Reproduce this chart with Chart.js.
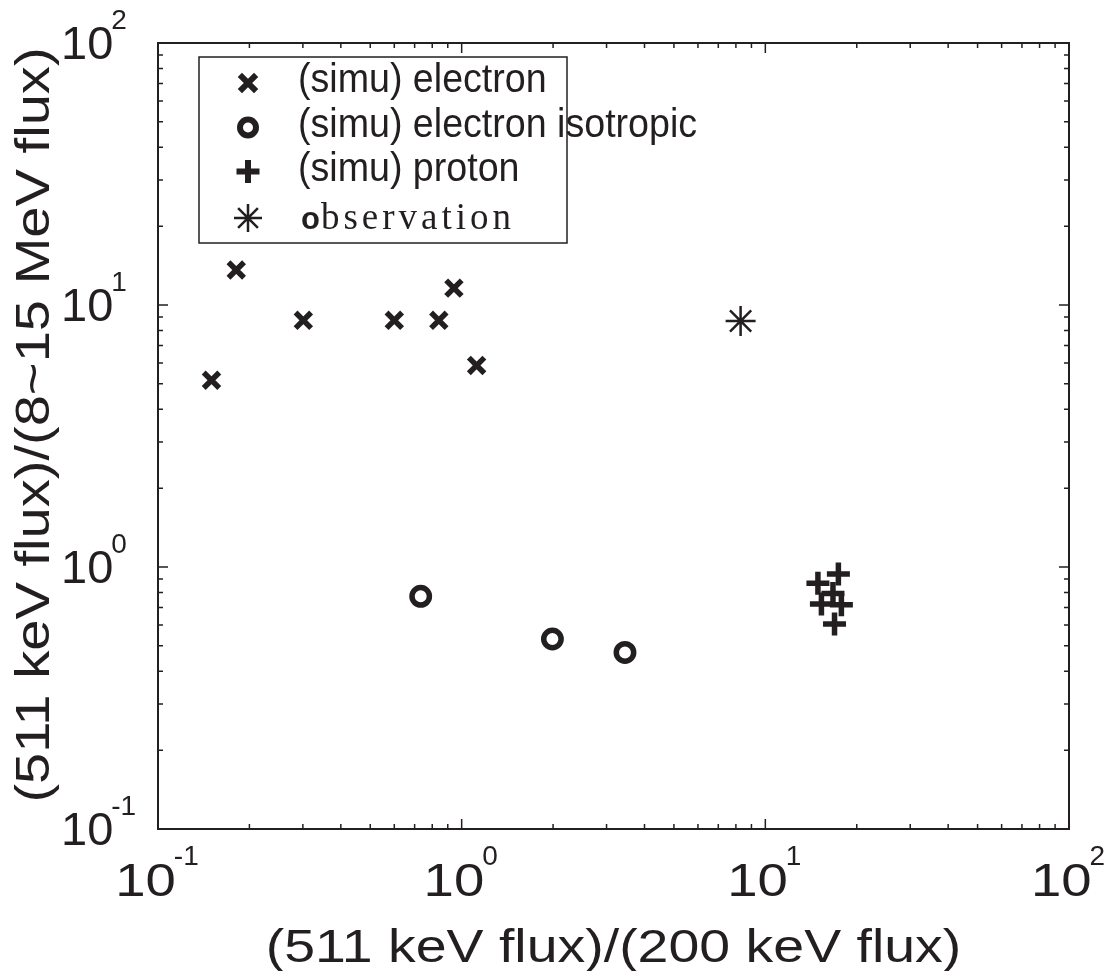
<!DOCTYPE html>
<html>
<head>
<meta charset="utf-8">
<script src="https://cdn.jsdelivr.net/npm/chart.js@4/dist/chart.umd.min.js"></script>
<style>
  html, body { margin: 0; background: #fff; }
  #wrap { width: 1112px; height: 971px; }
</style>
</head>
<body>
<div id="wrap"><canvas id="plot"></canvas></div>
<script>
// values
const electronX = [0.150, 0.181, 0.301, 0.600, 0.841, 0.943, 1.12];
const electronY = [5.16, 13.6, 8.74, 8.74, 8.74, 11.6, 5.88];
const isoX = [0.733, 1.99, 3.45];
const isoY = [0.773, 0.531, 0.472];
const protonX = [17.4, 14.9, 16.7, 15.3, 17.8, 16.9];
const protonY = [0.94, 0.867, 0.793, 0.723, 0.718, 0.606];
const obsX = [8.29];
const obsY = [8.69];
const decadeValues = [0.1, 1, 10, 100];
const decadeExps = ['-1', '0', '1', '2'];
const legendNames = ['(simu) electron', '(simu) electron isotropic', '(simu) proton', 'observation'];
const xTitle = '(511 keV flux)/(200 keV flux)';
const yTitle = '(511 keV flux)/(8~15 MeV flux)';

const ink = '#231f20';
const sans = '"Liberation Sans", Arial, Helvetica, sans-serif';
const serif = '"Liberation Serif", "Times New Roman", serif';

function pts(xs, ys) {
  return xs.map((x, i) => ({ x: x, y: ys[i] }));
}

function marker(ctx, style, x, y, r, lw) {
  ctx.save();
  ctx.strokeStyle = ink;
  ctx.lineWidth = lw;
  ctx.beginPath();
  if (style == 'circle') {
    ctx.arc(x, y, r, 0, Math.PI * 2);
  }
  if (style == 'cross' || style == 'star') {
    ctx.moveTo(x - r, y); ctx.lineTo(x + r, y);
    ctx.moveTo(x, y - r); ctx.lineTo(x, y + r);
  }
  if (style == 'crossRot' || style == 'star') {
    const d = r * Math.SQRT1_2;
    ctx.moveTo(x - d, y - d); ctx.lineTo(x + d, y + d);
    ctx.moveTo(x - d, y + d); ctx.lineTo(x + d, y - d);
  }
  ctx.stroke();
  ctx.restore();
}

const frame = {
  id: 'frame',
  afterDraw(chart) {
    const ctx = chart.ctx;
    const a = chart.chartArea;
    const xs = chart.scales.x;
    const ys = chart.scales.y;

    ctx.save();
    ctx.strokeStyle = ink;
    ctx.lineWidth = 1.5;
    ctx.beginPath();
    for (let e = -1; e <= 2; e++) {
      for (let m = 1; m <= 9; m++) {
        if (e == 2 && m > 1) break;
        const v = m * Math.pow(10, e);
        const len = m == 1 ? 10 : 5;
        const px = xs.getPixelForValue(v);
        const py = ys.getPixelForValue(v);
        ctx.moveTo(px, a.bottom); ctx.lineTo(px, a.bottom - len);
        ctx.moveTo(px, a.top); ctx.lineTo(px, a.top + len);
        ctx.moveTo(a.left, py); ctx.lineTo(a.left + len, py);
        ctx.moveTo(a.right, py); ctx.lineTo(a.right - len, py);
      }
    }
    ctx.stroke();
    ctx.lineWidth = 2;
    ctx.strokeRect(a.left, a.top, a.right - a.left, a.bottom - a.top);

    // tick labels 10^n
    ctx.fillStyle = ink;
    ctx.textBaseline = 'alphabetic';
    ctx.textAlign = 'left';
    decadeValues.forEach((v, i) => {
      const exp = decadeExps[i];
      // x axis
      const px = xs.getPixelForValue(v);
      ctx.font = '47px ' + sans;
      const w10 = ctx.measureText('10').width * 1.16;
      ctx.font = '28px ' + sans;
      const we = ctx.measureText(exp).width;
      const sx = px - (w10 + we) / 2;
      ctx.save();
      ctx.translate(sx, 896);
      ctx.scale(1.16, 1);
      ctx.font = '47px ' + sans;
      ctx.fillText('10', 0, 0);
      ctx.restore();
      ctx.font = '28px ' + sans;
      ctx.fillText(exp, sx + w10 - 2, 865);

      // y axis
      const py = ys.getPixelForValue(v);
      ctx.font = '47px ' + sans;
      const w10y = ctx.measureText('10').width;
      ctx.fillText('10', 61, py + 16);
      ctx.font = '28px ' + sans;
      ctx.fillText(exp, 61 + w10y - 2, py - 14);
    });

    // axis titles
    ctx.font = '47px ' + sans;
    ctx.textAlign = 'center';
    ctx.save();
    ctx.translate((a.left + a.right) / 2, 962);
    ctx.scale(1.18, 1);
    ctx.fillText(xTitle, 0, 0);
    ctx.restore();

    ctx.save();
    ctx.translate(49, 425);
    ctx.rotate(-Math.PI / 2);
    ctx.scale(1.145, 1);
    ctx.font = '49px ' + sans;
    ctx.fillText(yTitle, 0, 0);
    ctx.restore();

    // legend
    ctx.fillStyle = '#fff';
    ctx.fillRect(199, 57, 368, 186);
    ctx.lineWidth = 1.5;
    ctx.strokeRect(199, 57, 368, 186);
    marker(ctx, 'crossRot', 248, 83, 11.5, 6);
    marker(ctx, 'circle', 248, 127.5, 8, 6);
    marker(ctx, 'cross', 248, 171.5, 11.5, 6);
    marker(ctx, 'star', 248, 218, 14, 2.5);

    ctx.fillStyle = ink;
    ctx.textAlign = 'left';
    const rowBase = [92, 137, 181];
    for (let i = 0; i < 3; i++) {
      ctx.save();
      ctx.translate(298, rowBase[i]);
      ctx.scale(0.94, 1);
      ctx.font = '40px ' + sans;
      ctx.fillText(legendNames[i], 0, 0);
      ctx.restore();
    }
    const obs = legendNames[3];
    ctx.font = 'bold 31px ' + sans;
    ctx.fillText(obs[0], 301, 229);
    const wo = ctx.measureText(obs[0]).width;
    ctx.font = '37px ' + serif;
    ctx.letterSpacing = '4px';
    ctx.fillText(obs.slice(1), 301 + wo + 1, 229);
    ctx.letterSpacing = '0px';
    ctx.restore();
  }
};

new Chart(document.getElementById('plot'), {
  type: 'scatter',
  data: {
    datasets: [
      {
        label: legendNames[0],
        data: pts(electronX, electronY),
        pointStyle: 'crossRot',
        radius: 11, hoverRadius: 11,
        borderWidth: 5.5, hoverBorderWidth: 5.5,
        borderColor: ink, backgroundColor: ink
      },
      {
        label: legendNames[1],
        data: pts(isoX, isoY),
        pointStyle: 'circle',
        radius: 8.7, hoverRadius: 8.7,
        borderWidth: 5.5, hoverBorderWidth: 5.5,
        borderColor: ink, backgroundColor: 'rgba(0,0,0,0)'
      },
      {
        label: legendNames[2],
        data: pts(protonX, protonY),
        pointStyle: 'cross',
        radius: 11.5, hoverRadius: 11.5,
        borderWidth: 5.5, hoverBorderWidth: 5.5,
        borderColor: ink, backgroundColor: ink
      },
      {
        label: legendNames[3],
        data: pts(obsX, obsY),
        pointStyle: 'star',
        radius: 15, hoverRadius: 15,
        borderWidth: 2.5, hoverBorderWidth: 2.5,
        borderColor: ink, backgroundColor: ink
      }
    ]
  },
  options: {
    responsive: true,
    maintainAspectRatio: false,
    animation: false,
    events: [],
    layout: { padding: { top: 43, right: 43, left: 0, bottom: 0 } },
    plugins: { legend: { display: false }, tooltip: { enabled: false } },
    scales: {
      x: {
        type: 'logarithmic', min: 0.1, max: 100,
        grid: { display: false }, border: { display: false },
        ticks: { display: false },
        afterFit(s) { s.height = 142; }
      },
      y: {
        type: 'logarithmic', min: 0.1, max: 100,
        grid: { display: false }, border: { display: false },
        ticks: { display: false },
        afterFit(s) { s.width = 158; }
      }
    }
  },
  plugins: [frame]
});
</script>
</body>
</html>
